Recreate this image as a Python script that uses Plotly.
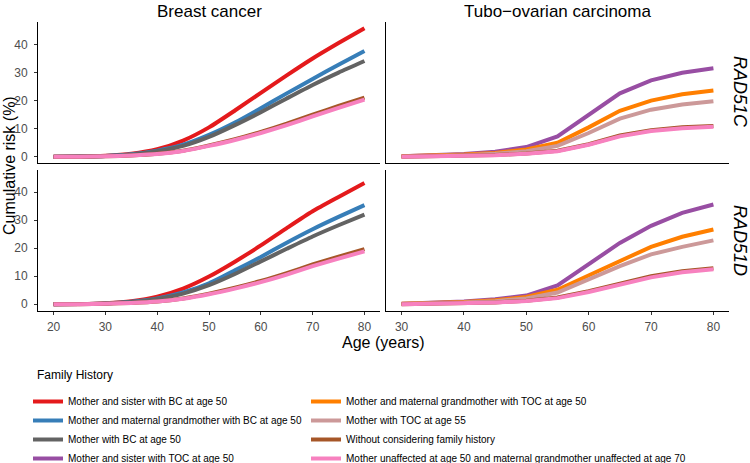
import plotly.graph_objects as go

# ---------------- data ----------------
ages_bc = [20, 25, 30, 35, 40, 45, 50, 55, 60, 65, 70, 75, 80]
ages_toc = [30, 35, 40, 45, 50, 55, 60, 65, 70, 75, 80]

# Breast cancer, RAD51C
bc_c_red = [0, 0.1, 0.4, 1.1, 2.7, 5.8, 10.5, 16.5, 22.8, 29.0, 35.0, 40.5, 45.8]
bc_c_blue = [0, 0.1, 0.3, 0.9, 2.2, 4.3, 7.8, 12.2, 17.3, 22.6, 27.7, 32.8, 37.7]
bc_c_gray = [0, 0.1, 0.3, 0.8, 2.0, 3.9, 7.1, 11.3, 15.9, 20.8, 25.6, 30.0, 34.1]
bc_c_brown = [0, 0.05, 0.2, 0.5, 1.1, 2.2, 4.1, 6.3, 8.9, 11.8, 15.0, 18.1, 21.1]
bc_c_pink = [0, 0.05, 0.2, 0.5, 1.0, 2.1, 3.9, 6.0, 8.5, 11.3, 14.4, 17.4, 20.4]

# Breast cancer, RAD51D
bc_d_red = [0, 0.1, 0.4, 1.1, 2.7, 5.6, 9.9, 15.2, 21.0, 27.2, 33.2, 38.3, 43.3]
bc_d_blue = [0, 0.1, 0.3, 0.9, 2.1, 4.2, 7.5, 12.1, 16.9, 22.0, 26.8, 31.2, 35.4]
bc_d_gray = [0, 0.1, 0.3, 0.8, 1.9, 3.8, 6.8, 10.8, 15.3, 19.8, 24.2, 28.2, 32.0]
bc_d_brown = [0, 0.05, 0.2, 0.5, 1.0, 2.1, 3.8, 5.9, 8.3, 11.1, 14.2, 17.0, 19.7]
bc_d_pink = [0, 0.05, 0.2, 0.5, 1.0, 2.0, 3.6, 5.6, 7.9, 10.6, 13.6, 16.3, 18.9]

# Tubo-ovarian carcinoma, RAD51C
toc_c_purple = [0.2, 0.5, 1.0, 1.8, 3.5, 7.3, 15.0, 22.6, 27.2, 29.9, 31.5]
toc_c_orange = [0.2, 0.4, 0.8, 1.4, 2.6, 5.0, 10.5, 16.4, 20.0, 22.3, 23.6]
toc_c_rosy = [0.1, 0.3, 0.6, 1.1, 2.0, 3.9, 8.5, 13.6, 16.8, 18.6, 19.8]
toc_c_brown = [0.05, 0.15, 0.4, 0.65, 1.2, 2.2, 4.5, 7.6, 9.5, 10.5, 11.0]
toc_c_pink = [0.05, 0.15, 0.35, 0.6, 1.1, 2.0, 4.3, 7.3, 9.2, 10.2, 10.7]

# Tubo-ovarian carcinoma, RAD51D
toc_d_purple = [0.2, 0.5, 1.0, 1.8, 3.1, 6.7, 14.2, 21.9, 28.0, 32.6, 35.6]
toc_d_orange = [0.2, 0.4, 0.8, 1.4, 2.6, 5.2, 10.3, 15.7, 20.5, 24.1, 26.7]
toc_d_rosy = [0.1, 0.3, 0.6, 1.1, 2.1, 4.2, 8.8, 13.6, 17.8, 20.5, 22.8]
toc_d_brown = [0.05, 0.15, 0.4, 0.65, 1.3, 2.4, 4.7, 7.5, 10.0, 11.8, 12.9]
toc_d_pink = [0.05, 0.15, 0.35, 0.6, 1.2, 2.2, 4.4, 7.1, 9.6, 11.4, 12.5]

series_names = {
    "red": "Mother and sister with BC at age 50",
    "blue": "Mother and maternal grandmother with BC at age 50",
    "gray": "Mother with BC at age 50",
    "purple": "Mother and sister with TOC at age 50",
    "orange": "Mother and maternal grandmother with TOC at age 50",
    "rosy": "Mother with TOC at age 55",
    "brown": "Without considering family history",
    "pink": "Mother unaffected at age 50 and maternal grandmother unaffected at age 70",
}
series_colors = {
    "red": "#E41A1C", "blue": "#377EB8", "gray": "#636363", "purple": "#984EA3",
    "orange": "#FF7F00", "rosy": "#CC9999", "brown": "#A65628", "pink": "#F781BF",
}
legend_column = {"red": "legend", "blue": "legend", "gray": "legend", "purple": "legend",
                 "orange": "legend2", "rosy": "legend2", "brown": "legend2", "pink": "legend2"}
legend_rank = {"red": 1, "blue": 2, "gray": 3, "purple": 4,
               "orange": 5, "rosy": 6, "brown": 7, "pink": 8}

gene_labels = ["RAD51C", "RAD51D"]
cancer_labels = ["Breast cancer", "Tubo\u2212ovarian carcinoma"]
legend_title = "Family History"
y_ticks = [0, 10, 20, 30, 40]
x_ticks_bc = [20, 30, 40, 50, 60, 70, 80]
x_ticks_toc = [30, 40, 50, 60, 70, 80]

fig = go.Figure()
shown = set()

def add(key, x, y, xa, ya, shape):
    fig.add_trace(go.Scatter(
        x=x, y=y, mode="lines", name=series_names[key],
        line=dict(color=series_colors[key], width=4, shape=shape, smoothing=0.6),
        xaxis=xa, yaxis=ya, legend=legend_column[key], legendrank=legend_rank[key],
        showlegend=key not in shown, legendgroup=key,
    ))
    shown.add(key)

# top-left (BC, RAD51C) -> x3/y3 ; bottom-left (BC, RAD51D) -> x/y
for key, vals in [("red", bc_c_red), ("blue", bc_c_blue), ("gray", bc_c_gray),
                  ("brown", bc_c_brown), ("pink", bc_c_pink)]:
    add(key, ages_bc, vals, "x3", "y3", "spline")
for key, vals in [("red", bc_d_red), ("blue", bc_d_blue), ("gray", bc_d_gray),
                  ("brown", bc_d_brown), ("pink", bc_d_pink)]:
    add(key, ages_bc, vals, "x", "y", "spline")
# top-right (TOC, RAD51C) -> x4/y4 ; bottom-right (TOC, RAD51D) -> x2/y2
for key, vals in [("purple", toc_c_purple), ("orange", toc_c_orange), ("rosy", toc_c_rosy),
                  ("brown", toc_c_brown), ("pink", toc_c_pink)]:
    add(key, ages_toc, vals, "x4", "y4", "linear")
for key, vals in [("purple", toc_d_purple), ("orange", toc_d_orange), ("rosy", toc_d_rosy),
                  ("brown", toc_d_brown), ("pink", toc_d_pink)]:
    add(key, ages_toc, vals, "x2", "y2", "linear")

W, H = 750, 463
xl = [38 / W, 380 / W]
xr = [386 / W, 729 / W]
yt = [1 - 163.3 / H, 1 - 21.7 / H]
yb = [1 - 310.7 / H, 1 - 169.5 / H]
yrange = [-2.29, 48.1]
FONT = "Liberation Sans, Arial, sans-serif"
tickfont = dict(size=12, color="#4D4D4D", family=FONT)

base_x = dict(showgrid=False, zeroline=False, showline=True, linecolor="black", linewidth=1,
              tickfont=tickfont, ticklen=3, tickcolor="#333333", tickwidth=1, automargin=False)
base_y = dict(showgrid=False, zeroline=False, showline=True, linecolor="black", linewidth=1,
              tickfont=tickfont, ticklen=3, tickcolor="#333333", tickwidth=1, range=yrange,
              automargin=False)

fig.update_layout(
    xaxis=dict(base_x, domain=xl, anchor="y", range=[17, 83], tickvals=x_ticks_bc,
               ticks="outside", ticklabelstandoff=2),
    yaxis=dict(base_y, domain=yb, anchor="x", tickvals=y_ticks, ticks="outside",
               ticklabelstandoff=4),
    xaxis2=dict(base_x, domain=xr, anchor="y2", range=[27.5, 82.5], tickvals=x_ticks_toc,
                ticks="outside", ticklabelstandoff=2),
    yaxis2=dict(base_y, domain=yb, anchor="x2", showticklabels=False, ticks=""),
    xaxis3=dict(base_x, domain=xl, anchor="y3", range=[17, 83], showticklabels=False, ticks=""),
    yaxis3=dict(base_y, domain=yt, anchor="x3", tickvals=y_ticks, ticks="outside",
                ticklabelstandoff=4),
    xaxis4=dict(base_x, domain=xr, anchor="y4", range=[27.5, 82.5], showticklabels=False, ticks=""),
    yaxis4=dict(base_y, domain=yt, anchor="x4", showticklabels=False, ticks=""),
)

ann_font = dict(family=FONT, color="black")
annotations = [
    dict(text=cancer_labels[0], x=(xl[0] + xl[1]) / 2, y=1, yanchor="top",
         font=dict(ann_font, size=17)),
    dict(text=cancer_labels[1], x=(xr[0] + xr[1]) / 2, y=1, yanchor="top",
         font=dict(ann_font, size=17)),
    dict(text="<i>" + gene_labels[0] + "</i>", x=740 / W, y=1 - 92 / H, textangle=90,
         font=dict(ann_font, size=18)),
    dict(text="<i>" + gene_labels[1] + "</i>", x=740 / W, y=1 - 240 / H, textangle=90,
         font=dict(ann_font, size=18)),
    dict(text="Cumulative risk (%)", x=9 / W, y=1 - 166 / H, textangle=-90,
         font=dict(ann_font, size=16)),
    dict(text="Age (years)", x=383 / W, y=1 - 342 / H, font=dict(ann_font, size=16)),
    dict(text=legend_title, x=35 / W, y=1 - 375 / H, xanchor="left",
         font=dict(ann_font, size=12)),
]
for a in annotations:
    a.setdefault("xanchor", "center")
    a.setdefault("yanchor", "middle")
    a.update(xref="paper", yref="paper", showarrow=False)

legend_common = dict(
    orientation="v", yanchor="top", y=1 - 387 / H, xanchor="left",
    font=dict(size=10, family=FONT, color="black"),
    itemwidth=30, bgcolor="rgba(0,0,0,0)", tracegroupgap=0,
)
fig.update_layout(
    annotations=annotations,
    width=W, height=H,
    margin=dict(l=0, r=0, t=0, b=0, autoexpand=False),
    paper_bgcolor="white", plot_bgcolor="white",
    legend=dict(legend_common, x=28 / W),
    legend2=dict(legend_common, x=306 / W),
)

fig.write_html(
    "out.html",
    config={"displayModeBar": False},
    post_script="document.body.style.margin='0';document.body.style.padding='0';"
                "document.body.style.overflow='hidden';",
)
